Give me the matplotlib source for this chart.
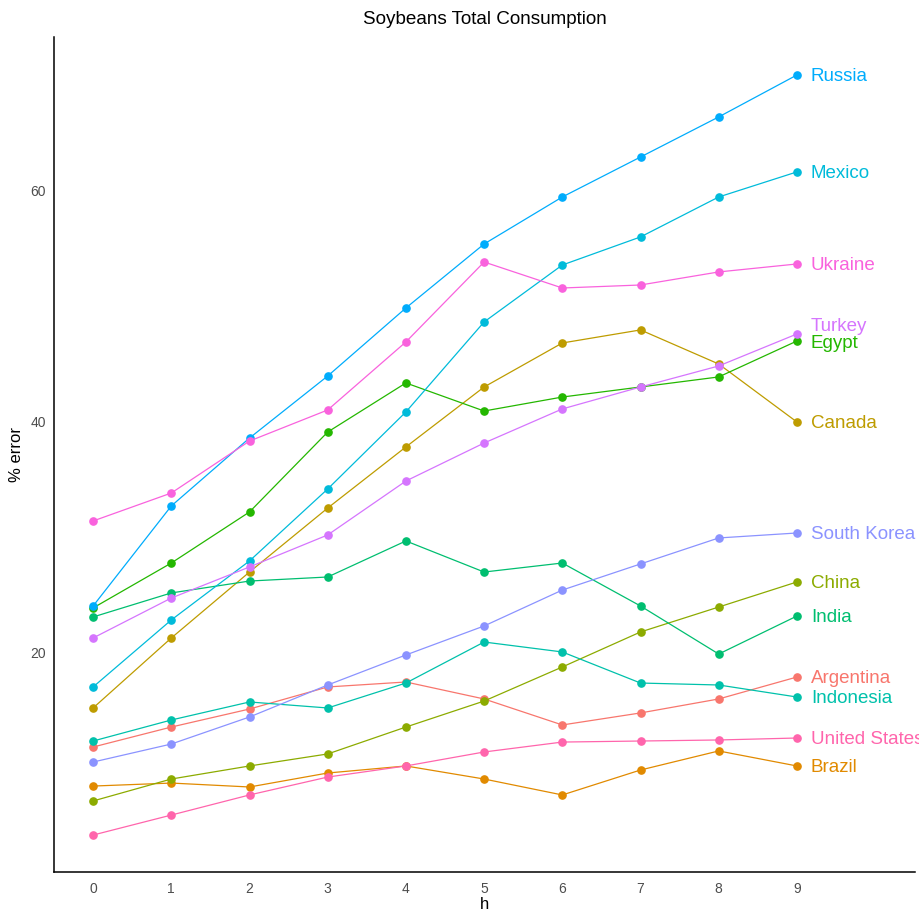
import matplotlib
matplotlib.use("Agg")
import matplotlib.pyplot as plt

plt.rcParams['font.family'] = ['Liberation Sans', 'DejaVu Sans']

h = list(range(10))

argentina = [11.86, 13.59, 15.15, 17.06, 17.49, 16.02, 13.77, 14.81, 16.02, 17.92]
brazil = [8.48, 8.74, 8.40, 9.61, 10.22, 9.09, 7.71, 9.87, 11.52, 10.22]
canada = [15.24, 21.30, 27.01, 32.55, 37.84, 43.03, 46.84, 47.97, 45.02, 40.00]
china = [7.19, 9.09, 10.22, 11.26, 13.59, 15.84, 18.79, 21.82, 23.98, 26.15]
egypt = [23.90, 27.79, 32.21, 39.13, 43.38, 40.95, 42.16, 43.03, 43.90, 47.01]
india = [23.12, 25.20, 26.23, 26.58, 29.70, 27.01, 27.79, 24.07, 19.91, 23.20]
indonesia = [12.38, 14.20, 15.76, 15.24, 17.40, 20.95, 20.09, 17.40, 17.23, 16.19]
mexico = [17.06, 22.86, 27.97, 34.20, 40.87, 48.66, 53.59, 56.02, 59.48, 61.65]
russia = [24.07, 32.73, 38.61, 43.98, 49.87, 55.41, 59.48, 62.94, 66.41, 70.04]
south_korea = [10.56, 12.12, 14.46, 17.23, 19.83, 22.34, 25.45, 27.71, 29.96, 30.39]
turkey = [21.30, 24.76, 27.45, 30.22, 34.89, 38.18, 41.13, 43.03, 44.85, 47.62]
ukraine = [31.43, 33.85, 38.35, 41.04, 46.93, 53.85, 51.60, 51.86, 52.99, 53.68]
united_states = [4.24, 5.97, 7.71, 9.26, 10.22, 11.43, 12.29, 12.38, 12.47, 12.64]

countries = ["Argentina", "Brazil", "Canada", "China", "Egypt", "India",
             "Indonesia", "Mexico", "Russia", "South Korea", "Turkey",
             "Ukraine", "United States"]
series = [argentina, brazil, canada, china, egypt, india, indonesia, mexico,
          russia, south_korea, turkey, ukraine, united_states]
colors = ["#F8766D", "#E18A00", "#BE9C00", "#8CAB00", "#24B700", "#00BE70",
          "#00C1AB", "#00BBDA", "#00ACFC", "#8B93FF", "#D575FE", "#F962DD",
          "#FF65AC"]

# label nudges (points) to avoid overlap, as in the reference
nudge = {"Turkey": 6.5, "Egypt": -1}

fig = plt.figure(figsize=(9.19, 9.14), dpi=100)
ax = fig.add_axes([54/919, 1 - 872/914, (915-54)/919, (872-37)/914])

for name, vals, c in zip(countries, series, colors):
    ax.plot(h, vals, color=c, lw=0.9, marker='o', ms=5.2, zorder=2)
    ax.annotate(name, (h[-1], vals[-1]), xytext=(10, nudge.get(name, 0) - 0.8),
                textcoords='offset points', ha='left', va='center',
                color=c, fontsize=13.5, annotation_clip=False, clip_on=False)

ax.set_xlim(-0.5, 10.51)
ax.set_ylim(1.04, 73.33)
ax.set_xticks(h)
ax.set_yticks([20, 40, 60])
ax.tick_params(axis='both', length=0, colors='#4D4D4D', labelsize=10)
ax.tick_params(axis='x', pad=7)
ax.tick_params(axis='y', pad=6)
for s in ['top', 'right']:
    ax.spines[s].set_visible(False)
for s in ['left', 'bottom']:
    ax.spines[s].set_linewidth(1.1)
    ax.spines[s].set_color('black')

ax.set_xlabel('h', fontsize=12, labelpad=1)
ax.set_ylabel('% error', fontsize=12, labelpad=4)
ax.set_title('Soybeans Total Consumption', fontsize=13.6, pad=9)

fig.savefig('out.png', dpi=100)
